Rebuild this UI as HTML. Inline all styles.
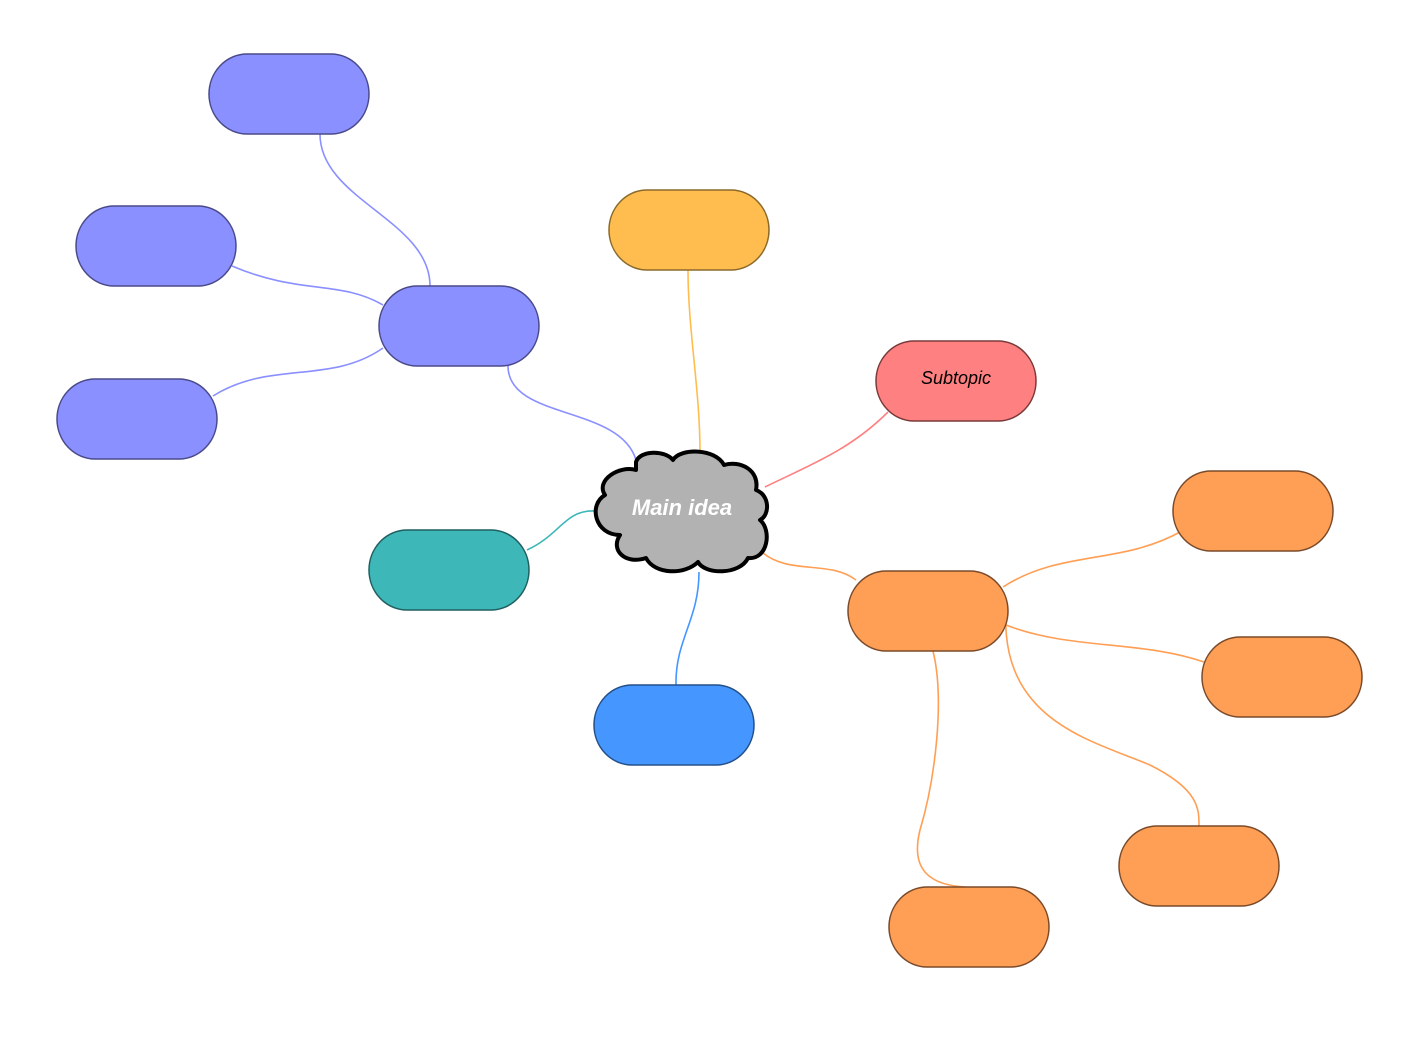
<!DOCTYPE html>
<html><head><meta charset="utf-8"><style>html,body{margin:0;padding:0;background:#fff}svg{display:block}</style></head>
<body>
<svg width="1426" height="1037" viewBox="0 0 1426 1037" xmlns="http://www.w3.org/2000/svg">
<g fill="none" stroke-width="1.6">
<path d="M320,134 C320,200 430,220 430,286" stroke="#8A90FF"/>
<path d="M232,266 C300,295 340,280 383,305" stroke="#8A90FF"/>
<path d="M213,396 C270,360 330,385 383,348" stroke="#8A90FF"/>
<path d="M508,366 C508,420 620,405 636,460" stroke="#8A90FF"/>
<path d="M688,270 C688,330 700,390 700,452" stroke="#FFBD4F"/>
<path d="M888,412 C850,450 810,465 765,487" stroke="#FF8080"/>
<path d="M527,550 C560,535 565,510 594,511" stroke="#3DB7B8"/>
<path d="M699,572 C699,620 675,640 676,685" stroke="#4596FF"/>
<path d="M763,553 C790,575 830,560 856,580" stroke="#FF9F55"/>
<path d="M1003,587 C1060,550 1120,565 1180,532" stroke="#FF9F55"/>
<path d="M1006,625 C1070,650 1140,640 1204,662" stroke="#FF9F55"/>
<path d="M1006,610 C1000,720 1090,740 1150,765 C1200,790 1199,810 1199,826" stroke="#FF9F55"/>
<path d="M933,651 C945,700 935,780 920,830 C910,870 930,885 965,887" stroke="#FF9F55"/>
</g>
<g stroke-width="1.5">
<rect x="209" y="54" width="160" height="80" rx="38" ry="40" fill="#8A90FF" stroke="#4a4a8a"/>
<rect x="76" y="206" width="160" height="80" rx="38" ry="40" fill="#8A90FF" stroke="#4a4a8a"/>
<rect x="379" y="286" width="160" height="80" rx="38" ry="40" fill="#8A90FF" stroke="#4a4a8a"/>
<rect x="57" y="379" width="160" height="80" rx="38" ry="40" fill="#8A90FF" stroke="#4a4a8a"/>
<rect x="609" y="190" width="160" height="80" rx="38" ry="40" fill="#FFBD4F" stroke="#8a6a2a"/>
<rect x="876" y="341" width="160" height="80" rx="38" ry="40" fill="#FF8080" stroke="#7a3a3a"/>
<rect x="369" y="530" width="160" height="80" rx="38" ry="40" fill="#3DB7B8" stroke="#1f5f5f"/>
<rect x="594" y="685" width="160" height="80" rx="38" ry="40" fill="#4596FF" stroke="#24508a"/>
<rect x="848" y="571" width="160" height="80" rx="38" ry="40" fill="#FF9F55" stroke="#7a4a2a"/>
<rect x="1173" y="471" width="160" height="80" rx="38" ry="40" fill="#FF9F55" stroke="#7a4a2a"/>
<rect x="1202" y="637" width="160" height="80" rx="38" ry="40" fill="#FF9F55" stroke="#7a4a2a"/>
<rect x="1119" y="826" width="160" height="80" rx="38" ry="40" fill="#FF9F55" stroke="#7a4a2a"/>
<rect x="889" y="887" width="160" height="80" rx="38" ry="40" fill="#FF9F55" stroke="#7a4a2a"/>
</g>
<path d="M636,462 C640,450 665,450 673,460 C680,448 715,448 724,465 C740,460 760,470 756,490 C770,495 770,515 760,520 C772,530 768,560 748,558 C740,575 705,575 698,562 C685,575 655,575 646,558 C625,565 610,550 620,535 C595,535 588,505 605,495 C595,480 620,465 636,470 Z" fill="#B2B2B2" stroke="#000" stroke-width="4" stroke-linejoin="round"/>
<text x="682" y="515" text-anchor="middle" font-family="Liberation Sans, sans-serif" font-size="22" font-weight="bold" font-style="italic" fill="#fff">Main idea</text>
<text x="956" y="384" text-anchor="middle" font-family="Liberation Sans, sans-serif" font-size="18" font-style="italic" fill="#000">Subtopic</text>
</svg>
</body></html>
